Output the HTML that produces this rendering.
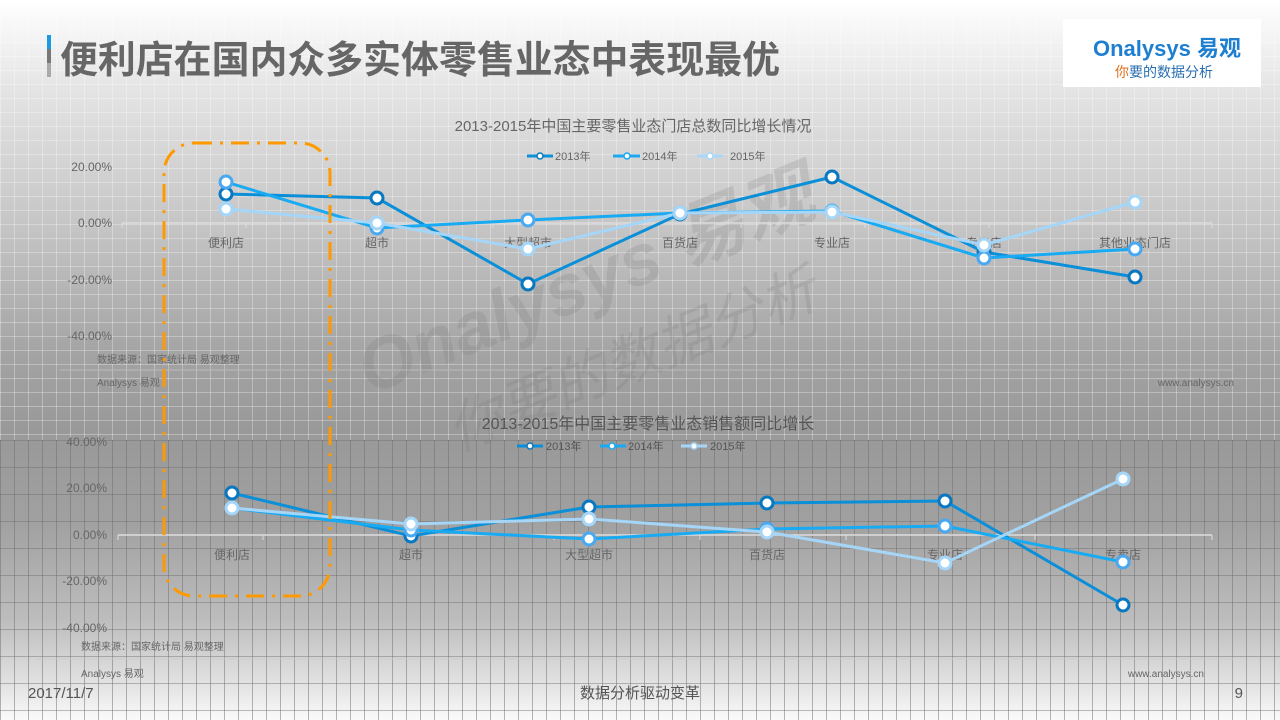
<!DOCTYPE html>
<html><head><meta charset="utf-8">
<style>
html,body{margin:0;padding:0;}
body{width:1280px;height:720px;overflow:hidden;position:relative;font-family:"Liberation Sans","Noto Sans CJK SC",sans-serif;
background:linear-gradient(to bottom,#ffffff 0px,#e4e4e4 90px,#c4c4c4 230px,#a2a2a2 360px,#999 430px,#a0a0a0 520px,#bdbdbd 620px,#e6e6e6 690px,#fafafa 720px);}
.g1{position:absolute;left:0;top:0;width:1280px;height:440px;
background-image:repeating-linear-gradient(to right,rgba(255,255,255,0.3) 0 1px,transparent 1px 14px),repeating-linear-gradient(to bottom,rgba(255,255,255,0.3) 0 1px,transparent 1px 14px);}
.g2{position:absolute;left:0;top:440px;width:1280px;height:280px;
background-image:repeating-linear-gradient(to right,rgba(110,110,110,0.5) 0 1px,transparent 1px 14px),repeating-linear-gradient(to bottom,rgba(110,110,110,0.45) 0 1px,transparent 1px 27px);}
svg{position:absolute;left:0;top:0;}
</style></head><body>
<div class="g1"></div><div class="g2"></div>
<svg width="1280" height="720" xmlns="http://www.w3.org/2000/svg" font-family="Liberation Sans, Noto Sans CJK SC, sans-serif">
<rect x="47" y="35" width="4" height="14" fill="#1a9ae0"/>
<rect x="47" y="49" width="4" height="14" fill="#777"/>
<rect x="47" y="63" width="4" height="14" fill="#aaa"/>
<text x="60" y="73" font-size="38" font-weight="bold" fill="#666" textLength="720" lengthAdjust="spacingAndGlyphs">便利店在国内众多实体零售业态中表现最优</text>
<rect x="1063" y="19" width="198" height="68" fill="#fff"/>
<text x="1093" y="56" font-size="22" font-weight="bold" fill="#1e7fd0">Onalysys 易观</text>
<text x="1115" y="77" font-size="14" fill="#2a6fb0"><tspan fill="#e07020">你</tspan>要的数据分析</text>
<g transform="translate(370,395) rotate(-22)" fill="#777" opacity="0.2">
<text x="0" y="0" font-size="72" font-style="italic" font-weight="bold">Onalysys 易观</text>
<text x="60" y="85" font-size="56" font-style="italic">你要的数据分析</text>
</g>
<text x="633" y="131" font-size="15" fill="#666" text-anchor="middle">2013-2015年中国主要零售业态门店总数同比增长情况</text>
<g font-size="11" fill="#666">
<line x1="527" y1="156" x2="553" y2="156" stroke="#0a8fd8" stroke-width="3"/><circle cx="540" cy="156" r="3" fill="#fff" stroke="#0a78c0" stroke-width="1.5"/><text x="555" y="160">2013年</text>
<line x1="613" y1="156" x2="640" y2="156" stroke="#1aa8f0" stroke-width="3"/><circle cx="627" cy="156" r="3" fill="#fff" stroke="#1aa8f0" stroke-width="1.5"/><text x="642" y="160">2014年</text>
<line x1="697" y1="156" x2="723" y2="156" stroke="#a8d8f8" stroke-width="3"/><circle cx="710" cy="156" r="3" fill="#fff" stroke="#a8d8f8" stroke-width="1.5"/><text x="730" y="160">2015年</text>
</g>
<g font-size="12" fill="#666" text-anchor="end">
<text x="112" y="171">20.00%</text><text x="112" y="227">0.00%</text><text x="112" y="284">-20.00%</text><text x="112" y="340">-40.00%</text>
</g>
<line x1="122" y1="223" x2="1212" y2="223" stroke="#ddd" stroke-width="1.5"/>
<g stroke="#ddd"><line x1="122" y1="223" x2="122" y2="228"/><line x1="246" y1="223" x2="246" y2="228"/><line x1="370" y1="223" x2="370" y2="228"/><line x1="493" y1="223" x2="493" y2="228"/><line x1="617" y1="223" x2="617" y2="228"/><line x1="741" y1="223" x2="741" y2="228"/><line x1="865" y1="223" x2="865" y2="228"/><line x1="989" y1="223" x2="989" y2="228"/><line x1="1212" y1="223" x2="1212" y2="228"/></g>
<g font-size="12" fill="#666" text-anchor="middle">
<text x="226" y="247">便利店</text><text x="377" y="247">超市</text><text x="528" y="247">大型超市</text><text x="680" y="247">百货店</text><text x="832" y="247">专业店</text><text x="984" y="247">专卖店</text><text x="1135" y="247">其他业态门店</text>
</g>
<g fill="none" stroke-width="3">
<polyline stroke="#0a8fd8" points="226,194 377,198 528,284 680,214 832,177 984,252 1135,277"/>
<polyline stroke="#18aaf2" points="226,182 377,228 528,220 680,213 832,211 984,258 1135,249"/>
<polyline stroke="#a5d6f8" points="226,209 377,223 528,249 680,213 832,212 984,245 1135,202"/>
</g>
<g fill="#fff" stroke-width="3">
<g stroke="#0a78c0"><circle cx="226" cy="194" r="6"/><circle cx="377" cy="198" r="6"/><circle cx="528" cy="284" r="6"/><circle cx="680" cy="214" r="6"/><circle cx="832" cy="177" r="6"/><circle cx="984" cy="252" r="6"/><circle cx="1135" cy="277" r="6"/></g>
<g stroke="#4aa8f0"><circle cx="226" cy="182" r="6"/><circle cx="377" cy="228" r="6"/><circle cx="528" cy="220" r="6"/><circle cx="680" cy="213" r="6"/><circle cx="832" cy="211" r="6"/><circle cx="984" cy="258" r="6"/><circle cx="1135" cy="249" r="6"/></g>
<g stroke="#a5d6f8"><circle cx="226" cy="209" r="6"/><circle cx="377" cy="223" r="6"/><circle cx="528" cy="249" r="6"/><circle cx="680" cy="213" r="6"/><circle cx="832" cy="212" r="6"/><circle cx="984" cy="245" r="6"/><circle cx="1135" cy="202" r="6"/></g>
</g>
<text x="97" y="363" font-size="10" fill="#666">数据来源：国家统计局 易观整理</text>
<line x1="60" y1="370" x2="1234" y2="370" stroke="#bbb"/>
<text x="97" y="386" font-size="10" fill="#666">Analysys 易观</text>
<text x="1234" y="386" font-size="10" fill="#666" text-anchor="end">www.analysys.cn</text>
<text x="648" y="429" font-size="16" fill="#555" text-anchor="middle">2013-2015年中国主要零售业态销售额同比增长</text>
<g font-size="11" fill="#555">
<line x1="517" y1="446" x2="543" y2="446" stroke="#0a8fd8" stroke-width="3"/><circle cx="530" cy="446" r="3" fill="#fff" stroke="#0a78c0" stroke-width="1.5"/><text x="546" y="450">2013年</text>
<line x1="600" y1="446" x2="626" y2="446" stroke="#18aaf2" stroke-width="3"/><circle cx="612" cy="446" r="3" fill="#fff" stroke="#18aaf2" stroke-width="1.5"/><text x="628" y="450">2014年</text>
<line x1="681" y1="446" x2="707" y2="446" stroke="#a5d6f8" stroke-width="3"/><circle cx="694" cy="446" r="3" fill="#fff" stroke="#a5d6f8" stroke-width="1.5"/><text x="710" y="450">2015年</text>
</g>
<g font-size="12" fill="#666" text-anchor="end">
<text x="107" y="446">40.00%</text><text x="107" y="492">20.00%</text><text x="107" y="539">0.00%</text><text x="107" y="585">-20.00%</text><text x="107" y="632">-40.00%</text>
</g>
<line x1="118" y1="535" x2="1212" y2="535" stroke="#ddd" stroke-width="1.5"/>
<g stroke="#ddd"><line x1="118" y1="535" x2="118" y2="540"/><line x1="263" y1="535" x2="263" y2="540"/><line x1="409" y1="535" x2="409" y2="540"/><line x1="554" y1="535" x2="554" y2="540"/><line x1="700" y1="535" x2="700" y2="540"/><line x1="846" y1="535" x2="846" y2="540"/><line x1="1035" y1="535" x2="1035" y2="540"/><line x1="1212" y1="535" x2="1212" y2="540"/></g>
<g font-size="12" fill="#666" text-anchor="middle">
<text x="232" y="559">便利店</text><text x="411" y="559">超市</text><text x="589" y="559">大型超市</text><text x="767" y="559">百货店</text><text x="945" y="559">专业店</text><text x="1123" y="559">专卖店</text>
</g>
<g fill="none" stroke-width="3">
<polyline stroke="#0a8fd8" points="232,493 411,536 589,507 767,503 945,501 1123,605"/>
<polyline stroke="#18aaf2" points="232,508 411,530 589,539 767,529 945,526 1123,562"/>
<polyline stroke="#a5d6f8" points="232,508 411,524 589,519 767,532 945,563 1123,479"/>
</g>
<g fill="#fff" stroke-width="3">
<g stroke="#0a78c0"><circle cx="232" cy="493" r="6"/><circle cx="411" cy="536" r="6"/><circle cx="589" cy="507" r="6"/><circle cx="767" cy="503" r="6"/><circle cx="945" cy="501" r="6"/><circle cx="1123" cy="605" r="6"/></g>
<g stroke="#4aa8f0"><circle cx="232" cy="508" r="6"/><circle cx="411" cy="530" r="6"/><circle cx="589" cy="539" r="6"/><circle cx="767" cy="529" r="6"/><circle cx="945" cy="526" r="6"/><circle cx="1123" cy="562" r="6"/></g>
<g stroke="#a5d6f8"><circle cx="232" cy="508" r="6"/><circle cx="411" cy="524" r="6"/><circle cx="589" cy="519" r="6"/><circle cx="767" cy="532" r="6"/><circle cx="945" cy="563" r="6"/><circle cx="1123" cy="479" r="6"/></g>
</g>
<text x="81" y="650" font-size="10" fill="#666">数据来源：国家统计局 易观整理</text>
<line x1="36" y1="659" x2="1234" y2="659" stroke="#ccc"/>
<text x="81" y="677" font-size="10" fill="#666">Analysys 易观</text>
<text x="1204" y="677" font-size="10" fill="#666" text-anchor="end">www.analysys.cn</text>
<rect x="164" y="143" width="166" height="453" rx="30" ry="30" fill="none" stroke="#ff9900" stroke-width="3" stroke-dasharray="18,8,3,8"/>
<text x="28" y="698" font-size="15" fill="#555">2017/11/7</text>
<text x="640" y="698" font-size="15" fill="#555" text-anchor="middle">数据分析驱动变革</text>
<text x="1243" y="698" font-size="15" fill="#555" text-anchor="end">9</text>
</svg>
</body></html>
